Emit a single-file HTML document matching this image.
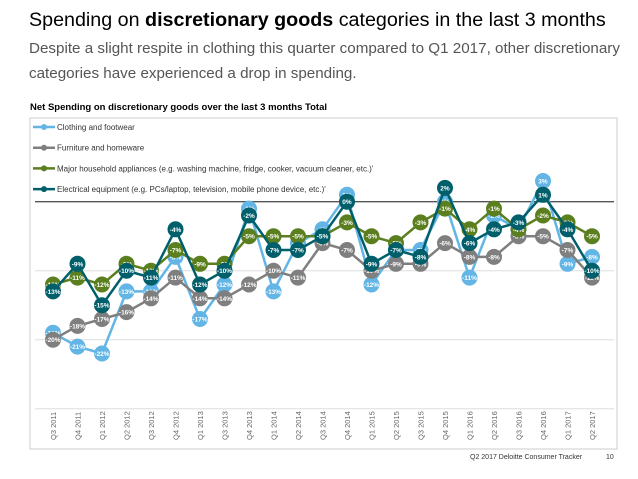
<!DOCTYPE html>
<html><head><meta charset="utf-8"><style>
body{margin:0;width:638px;height:479px;background:#fff;font-family:"Liberation Sans",sans-serif;position:relative;overflow:hidden}
.t{position:absolute;white-space:nowrap}
</style></head><body>
<div class="t" style="left:29px;top:9px;font-size:19.7px;color:#000">Spending on <b>discretionary goods</b> categories in the last 3 months</div>
<div class="t" style="left:29px;top:36px;font-size:15.2px;color:#555;line-height:25px;white-space:normal;width:600px">Despite a slight respite in clothing this quarter compared to Q1 2017, other discretionary categories have experienced a drop in spending.</div>
<div class="t" style="left:30px;top:102px;font-size:9.5px;font-weight:bold;color:#000">Net Spending on discretionary goods over the last 3 months Total</div>
<svg width="638" height="479" style="position:absolute;left:0;top:0">
<rect x="30" y="118" width="587" height="331" fill="none" stroke="#ccc"/>
<g id="grid"></g><g id="legend"></g><g id="series"></g><g id="xlab"></g>
</svg>
<div class="t" style="left:470px;top:454px;font-size:7px;color:#333">Q2 2017 Deloitte Consumer Tracker</div>
<div class="t" style="left:606px;top:454px;font-size:7px;color:#333">10</div>
<script>
const categories=["Q3 2011","Q4 2011","Q1 2012","Q2 2012","Q3 2012","Q4 2012","Q1 2013","Q3 2013","Q4 2013","Q1 2014","Q2 2014","Q3 2014","Q4 2014","Q1 2015","Q2 2015","Q3 2015","Q4 2015","Q1 2016","Q2 2016","Q3 2016","Q4 2016","Q1 2017","Q2 2017"];
const clothing=[-19,-21,-22,-13,-13,-8,-17,-12,-1,-13,-6,-4,1,-12,-7,-7,0,-11,-2,-4,3,-9,-8];
const furniture=[-20,-18,-17,-16,-14,-11,-14,-14,-12,-10,-11,-6,-7,-10,-9,-9,-6,-8,-8,-5,-5,-7,-11];
const appliances=[-12,-11,-12,-9,-10,-7,-9,-9,-5,-5,-5,-5,-3,-5,-6,-3,-1,-4,-1,-4,-2,-3,-5];
const electrical=[-13,-9,-15,-10,-11,-4,-12,-10,-2,-7,-7,-5,0,-9,-7,-8,2,-6,-4,-3,1,-4,-10];
const gridTicks=[0,-10,-20,-30];
const seriesNames=["Clothing and footwear","Furniture and homeware","Major household appliances (e.g. washing machine, fridge, cooker, vacuum cleaner, etc.)'","Electrical equipment (e.g. PCs/laptop, television, mobile phone device, etc.)'"];
const colors=["#62b5e5","#7f7f7f","#5b7f1f","#005f6b"];
const NS="http://www.w3.org/2000/svg";
const xs=i=>53+i*24.5, ys=v=>201.7-v*6.9;
function mk(t,a,p){const e=document.createElementNS(NS,t);for(const k in a)e.setAttribute(k,a[k]);p.appendChild(e);return e;}
const g=document.getElementById('grid');
gridTicks.forEach(v=>{const l=mk('line',{x1:35,x2:614,y1:ys(v),y2:ys(v),stroke:v===0?'#555':'#ddd','stroke-width':v===0?1.3:1},g);

});
const xl=document.getElementById('xlab');
categories.forEach((c,i)=>{const t=mk('text',{transform:`translate(${xs(i)+3},440) rotate(-90)`,'font-size':'7.5','fill':'#666'},xl);t.textContent=c;

});
const lg=document.getElementById('legend');
seriesNames.forEach((n,k)=>{const y=127+k*20.7;const gg=mk('g',{},lg);


mk('line',{x1:33,x2:55,y1:y,y2:y,stroke:colors[k],'stroke-width':2.5},gg);mk('circle',{cx:44,cy:y,r:3,fill:colors[k]},gg);
const t=mk('text',{x:57,y:y+3,'font-size':'8','fill':'#333'},gg);t.textContent=n;});
const sg=document.getElementById('series');
[clothing,furniture,appliances,electrical].forEach((d,k)=>{const gg=mk('g',{},sg);


mk('polyline',{points:d.map((v,i)=>xs(i)+','+ys(v)).join(' '),fill:'none',stroke:colors[k],'stroke-width':2.5},gg);
d.forEach((v,i)=>{const c=mk('circle',{cx:xs(i),cy:ys(v),r:8,fill:colors[k]},gg);


const t=mk('text',{x:xs(i),y:ys(v)+2.5,'font-size':'6.5','font-weight':'bold','fill':'#fff','text-anchor':'middle'},gg);t.textContent=v+'%';

});});
</script>
</body></html>
